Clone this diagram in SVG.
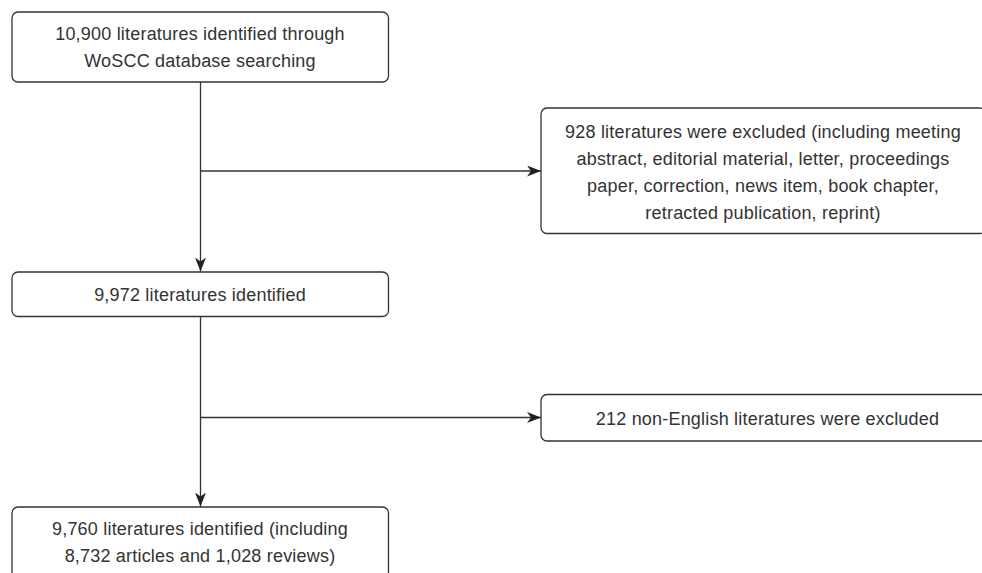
<svg xmlns="http://www.w3.org/2000/svg" width="982" height="573" viewBox="0 0 982 573">
  <defs>
    <marker id="arr" viewBox="0 0 14 11" refX="14" refY="5.5" markerWidth="14" markerHeight="11" markerUnits="userSpaceOnUse" orient="auto">
      <path d="M0,0 L14,5.5 L0,11 L4,5.5 Z" fill="#222"/>
    </marker>
  </defs>
  <style>
    .box { fill: #fff; stroke: #333; stroke-width: 1.3; }
    .t { font-family: "Liberation Sans", Arial, Helvetica, sans-serif; font-size: 18px; fill: #333; text-anchor: middle; letter-spacing: 0.2px; }
    .c { fill: none; stroke: #333; stroke-width: 1.3; }
  </style>
  <rect width="982" height="573" fill="#fff"/>
  <g id="connectors">
    <line class="c" x1="200.5" y1="82" x2="200.5" y2="271.5" marker-end="url(#arr)"/>
    <line class="c" x1="200.5" y1="171" x2="541" y2="171" marker-end="url(#arr)"/>
    <line class="c" x1="200.5" y1="317" x2="200.5" y2="506.5" marker-end="url(#arr)"/>
    <line class="c" x1="200.5" y1="417.5" x2="541" y2="417.5" marker-end="url(#arr)"/>
  </g>
  <g id="n1">
    <rect class="box" x="12" y="12" width="376.5" height="70" rx="6"/>
    <text class="t" x="200" y="40">10,900 literatures identified through</text>
    <text class="t" x="200" y="67">WoSCC database searching</text>
  </g>
  <g id="n2">
    <rect class="box" x="541" y="108" width="445" height="125.5" rx="6"/>
    <text class="t" x="763" y="138">928 literatures were excluded (including meeting</text>
    <text class="t" x="763" y="165">abstract, editorial material, letter, proceedings</text>
    <text class="t" x="763" y="192">paper, correction, news item, book chapter,</text>
    <text class="t" x="763" y="218.5">retracted publication, reprint)</text>
  </g>
  <g id="n3">
    <rect class="box" x="12" y="272" width="376.5" height="44.5" rx="6"/>
    <text class="t" x="200" y="301">9,972 literatures identified</text>
  </g>
  <g id="n4">
    <rect class="box" x="541" y="394.5" width="455" height="46.5" rx="6"/>
    <text class="t" x="767.5" y="425">212 non-English literatures were excluded</text>
  </g>
  <g id="n5">
    <rect class="box" x="12" y="507" width="376.5" height="72" rx="6"/>
    <text class="t" x="200" y="535">9,760 literatures identified (including</text>
    <text class="t" x="200" y="562">8,732 articles and 1,028 reviews)</text>
  </g>
</svg>
